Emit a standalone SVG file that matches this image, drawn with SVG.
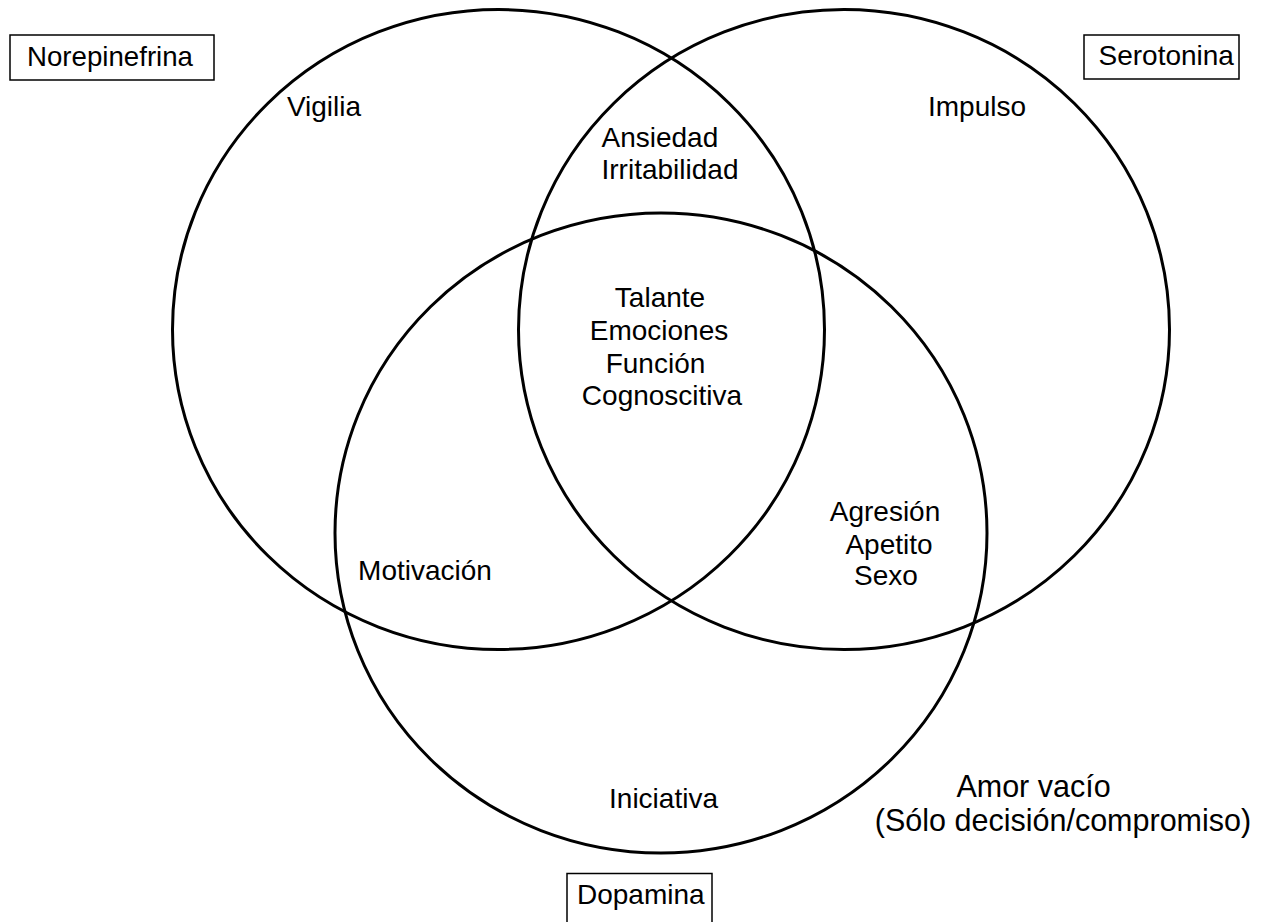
<svg xmlns="http://www.w3.org/2000/svg" width="1262" height="922" viewBox="0 0 1262 922">
<style>
.c{fill:none;stroke:#000;stroke-width:3}
.b{fill:#fff;stroke:#000;stroke-width:1.5}
text{font-family:"Liberation Sans",Arial,sans-serif;font-size:28px;fill:#000}
.m{text-anchor:middle}
.big{font-size:30.5px}
</style>
<rect width="1262" height="922" fill="#fff"/>
<g id="circles">
<ellipse id="circle-norepinefrina" class="c" cx="498.5" cy="329.5" rx="326" ry="320"/>
<ellipse id="circle-serotonina" class="c" cx="844" cy="329.5" rx="325.5" ry="320"/>
<ellipse id="circle-dopamina" class="c" cx="661" cy="533" rx="326" ry="320"/>
</g>
<g id="label-norepinefrina"><rect class="b" x="10" y="35" width="204" height="45"/><text x="27" y="65.5" textLength="166" lengthAdjust="spacingAndGlyphs">Norepinefrina</text></g>
<g id="label-serotonina"><rect class="b" x="1084" y="35" width="155" height="44"/><text x="1098.5" y="64.5">Serotonina</text></g>
<g id="label-dopamina"><rect class="b" x="567" y="873.5" width="145" height="60"/><text x="577" y="904">Dopamina</text></g>
<g id="region-vigilia"><text class="m" x="324" y="116">Vigilia</text></g>
<g id="region-impulso"><text class="m" x="977" y="116">Impulso</text></g>
<g id="region-ansiedad"><text x="601.5" y="146.5">Ansiedad</text><text x="601.5" y="178.5">Irritabilidad</text></g>
<g id="region-centro">
<text class="m" x="660" y="306.5">Talante</text>
<text class="m" x="659" y="339.5">Emociones</text>
<text class="m" x="655.5" y="372.5">Función</text>
<text class="m" x="662" y="405">Cognoscitiva</text>
</g>
<g id="region-motivacion"><text class="m" x="425" y="580">Motivación</text></g>
<g id="region-agresion">
<text class="m" x="885" y="520.5">Agresión</text>
<text class="m" x="889" y="553.5">Apetito</text>
<text class="m" x="886" y="585">Sexo</text>
</g>
<g id="region-iniciativa"><text class="m" x="663.5" y="807.5">Iniciativa</text></g>
<g id="label-amor"><text class="m big" x="1033.5" y="797">Amor vacío</text><text class="m big" x="1063" y="830.5">(Sólo decisión/compromiso)</text></g>
</svg>
